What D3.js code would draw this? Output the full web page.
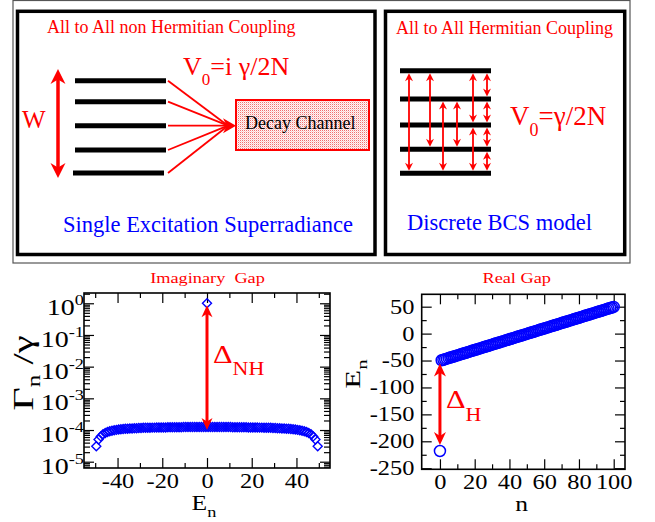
<!DOCTYPE html>
<html>
<head>
<meta charset="utf-8">
<script src="https://cdn.jsdelivr.net/npm/d3@7"></script>
<style>
  body { margin: 0; background: #fff; }
  svg { display: block; }
  text { font-family: "Liberation Serif", "Times New Roman", serif; }
</style>
</head>
<body>
<svg width="655" height="522"></svg>
<script>
// level energies E_n (same ladder for both panels)
const levelE = [
  -49.5, -48.5, -47.5, -46.5, -45.5, -44.5, -43.5, -42.5, -41.5, -40.5,
  -39.5, -38.5, -37.5, -36.5, -35.5, -34.5, -33.5, -32.5, -31.5, -30.5,
  -29.5, -28.5, -27.5, -26.5, -25.5, -24.5, -23.5, -22.5, -21.5, -20.5,
  -19.5, -18.5, -17.5, -16.5, -15.5, -14.5, -13.5, -12.5, -11.5, -10.5,
  -9.5, -8.5, -7.5, -6.5, -5.5, -4.5, -3.5, -2.5, -1.5, -0.5,
  0.5, 1.5, 2.5, 3.5, 4.5, 5.5, 6.5, 7.5, 8.5, 9.5,
  10.5, 11.5, 12.5, 13.5, 14.5, 15.5, 16.5, 17.5, 18.5, 19.5,
  20.5, 21.5, 22.5, 23.5, 24.5, 25.5, 26.5, 27.5, 28.5, 29.5,
  30.5, 31.5, 32.5, 33.5, 34.5, 35.5, 36.5, 37.5, 38.5, 39.5,
  40.5, 41.5, 42.5, 43.5, 44.5, 45.5, 46.5, 47.5, 48.5, 49.5
];
// subradiant widths Gamma_n / gamma
const widthNH = [
  0.31e-4, 0.50e-4, 0.63e-4, 0.73e-4, 0.80e-4, 0.86e-4, 0.91e-4, 0.95e-4, 0.98e-4, 1.01e-4,
  1.03e-4, 1.05e-4, 1.07e-4, 1.09e-4, 1.10e-4, 1.11e-4, 1.12e-4, 1.13e-4, 1.14e-4, 1.15e-4,
  1.16e-4, 1.17e-4, 1.17e-4, 1.18e-4, 1.18e-4, 1.19e-4, 1.19e-4, 1.20e-4, 1.20e-4, 1.21e-4,
  1.21e-4, 1.21e-4, 1.22e-4, 1.22e-4, 1.22e-4, 1.23e-4, 1.23e-4, 1.23e-4, 1.23e-4, 1.24e-4,
  1.24e-4, 1.24e-4, 1.24e-4, 1.24e-4, 1.25e-4, 1.25e-4, 1.25e-4, 1.25e-4, 1.25e-4, 1.25e-4,
  1.25e-4, 1.25e-4, 1.25e-4, 1.25e-4, 1.25e-4, 1.24e-4, 1.24e-4, 1.24e-4, 1.24e-4, 1.24e-4,
  1.24e-4, 1.23e-4, 1.23e-4, 1.23e-4, 1.23e-4, 1.22e-4, 1.22e-4, 1.22e-4, 1.21e-4, 1.21e-4,
  1.21e-4, 1.20e-4, 1.20e-4, 1.19e-4, 1.19e-4, 1.18e-4, 1.18e-4, 1.17e-4, 1.17e-4, 1.16e-4,
  1.15e-4, 1.14e-4, 1.13e-4, 1.12e-4, 1.11e-4, 1.10e-4, 1.09e-4, 1.07e-4, 1.05e-4, 1.03e-4,
  1.01e-4, 0.98e-4, 0.95e-4, 0.91e-4, 0.86e-4, 0.80e-4, 0.73e-4, 0.63e-4, 0.50e-4, 0.31e-4
];
const superradiant = { E: 0, width: 1 };
const bcsGround = { n: 0, E: -218 };
const gapNH = [1, 1e-4];
const gapH = [-50, -218];

const xTicksL = [-40, -20, 0, 20, 40];
const xMinorL = [-50, -30, -10, 10, 30, 50];
const yTicksL = [1, 1e-1, 1e-2, 1e-3, 1e-4, 1e-5];
const yExpL = ["0", "-1", "-2", "-3", "-4", "-5"];
const xTicksR = [0, 20, 40, 60, 80, 100];
const xMinorR = [10, 30, 50, 70, 90];
const yTicksR = [50, 0, -50, -100, -150, -200, -250];
const yMinorR = [25, -25, -75, -125, -175, -225];

const RED = "#ff0000", BLUE = "#0000ff";
const svg = d3.select("svg");

// arrow head pointing along +x, then rotated
function head(g, x, y, angle, len, wid, color) {
  g.append("path")
    .attr("d", `M0,0L${-len},${-wid / 2}L${-len * 0.7},0L${-len},${wid / 2}Z`)
    .attr("transform", `translate(${x},${y}) rotate(${angle})`)
    .attr("fill", color);
}
function dblArrow(g, x, y1, y2, len, wid, sw, color) {
  g.append("line").attr("x1", x).attr("x2", x)
    .attr("y1", y1 + len * 0.6).attr("y2", y2 - len * 0.6)
    .attr("stroke", color).attr("stroke-width", sw);
  head(g, x, y1, -90, len, wid, color);
  head(g, x, y2, 90, len, wid, color);
}

// ---------------- top schematic ----------------
const diag = svg.append("g");
diag.append("rect").attr("x", 13).attr("y", 0.5).attr("width", 617).attr("height", 262.5)
  .attr("fill", "none").attr("stroke", "#555").attr("stroke-width", 1.2);
[[17.5, 11.3, 357.5, 243.2], [385.5, 11.3, 239.2, 243.2]].forEach(b => {
  diag.append("rect").attr("x", b[0]).attr("y", b[1]).attr("width", b[2]).attr("height", b[3])
    .attr("fill", "none").attr("stroke", "#000").attr("stroke-width", 3.5);
});

const defs = svg.append("defs");
const pat = defs.append("pattern").attr("id", "stip").attr("width", 2).attr("height", 2)
  .attr("patternUnits", "userSpaceOnUse");
pat.append("rect").attr("width", 2).attr("height", 2).attr("fill", "#fff6f6");
pat.append("rect").attr("width", 1).attr("height", 1).attr("fill", "#f07070");
pat.append("rect").attr("x", 1).attr("y", 1).attr("width", 1).attr("height", 1).attr("fill", "#fad0d0");

// left box
diag.append("text").attr("x", 47).attr("y", 33).attr("font-size", 18).attr("fill", RED)
  .text("All to All non Hermitian Coupling");
const v1 = diag.append("text").attr("x", 183).attr("y", 75).attr("font-size", 26).attr("fill", RED);
v1.append("tspan").text("V");
v1.append("tspan").attr("font-size", 17).attr("dy", 10).text("0");
v1.append("tspan").attr("dy", -10).text("=i \u03b3/2N");
diag.append("text").attr("x", 22).attr("y", 128).attr("font-size", 25).attr("fill", RED).text("W");
dblArrow(diag, 58, 69, 178, 15, 15, 3.5, RED);

const barsL = [80.7, 101.7, 125.7, 150, 173];
barsL.forEach((y, i) => {
  diag.append("line").attr("x1", i === 4 ? 73 : 75).attr("x2", i === 4 ? 164 : 166)
    .attr("y1", y).attr("y2", y).attr("stroke", "#000").attr("stroke-width", 5);
  diag.append("line").attr("x1", 168).attr("y1", y).attr("x2", 228).attr("y2", 125.7)
    .attr("stroke", RED).attr("stroke-width", 1.8);
});
head(diag, 236, 125.7, 0, 13, 15, RED);
diag.append("rect").attr("x", 236).attr("y", 100).attr("width", 133).attr("height", 50)
  .attr("fill", "url(#stip)").attr("stroke", RED).attr("stroke-width", 2);
diag.append("text").attr("x", 245).attr("y", 129).attr("font-size", 18).attr("fill", "#000")
  .text("Decay Channel");
diag.append("text").attr("x", 63).attr("y", 231.5).attr("font-size", 22.5).attr("fill", BLUE)
  .text("Single Excitation Superradiance");

// right box
diag.append("text").attr("x", 396).attr("y", 34).attr("font-size", 18).attr("fill", RED)
  .text("All to All Hermitian Coupling");
const barsR = [70.7, 99, 125, 149.3, 173.3];
barsR.forEach(y => {
  diag.append("line").attr("x1", 400).attr("x2", 491).attr("y1", y).attr("y2", y)
    .attr("stroke", "#000").attr("stroke-width", 5);
});
[[409, 0, 4], [430, 0, 3], [443, 1, 4], [457, 1, 3], [473, 0, 2], [473, 2, 4],
 [487, 0, 1], [487, 1, 2], [487, 2, 3], [487, 3, 4]].forEach(a => {
  dblArrow(diag, a[0], barsR[a[1]] + 2.5, barsR[a[2]] - 2.5, 8, 8, 1.8, RED);
});
const v2 = diag.append("text").attr("x", 510).attr("y", 125).attr("font-size", 27).attr("fill", RED);
v2.append("tspan").text("V");
v2.append("tspan").attr("font-size", 18).attr("dy", 11).text("0");
v2.append("tspan").attr("dy", -11).text("=\u03b3/2N");
diag.append("text").attr("x", 407).attr("y", 230).attr("font-size", 22.5).attr("fill", BLUE)
  .text("Discrete BCS model");

// ---------------- bottom plots ----------------
const SX = 1.22; // horizontal stretch of the lower panels' lettering
const SL = 1.4;  // lengthwise stretch of the rotated axis titles

function stretchLabel(g, x, y, parts, opts) {
  const tf = opts.rotate ? `rotate(-90) scale(${SL},1)` : `scale(${SX},1)`;
  const t = g.append("text")
    .attr("transform", `translate(${x},${y}) ${tf}`)
    .attr("text-anchor", opts.anchor || "middle")
    .attr("font-size", opts.size).attr("fill", opts.color || "#000");
  parts.forEach(p => {
    t.append("tspan").attr("font-size", p.size || null).attr("dy", p.dy || 0).text(p.t);
  });
  return t;
}

function frameAxes(g, x, y, xMajor, xMinor) {
  const [x0, x1] = x.range(), [y0, y1] = y.range();
  const b = g.append("g").attr("transform", `translate(0,${y0})`)
    .call(d3.axisBottom(x).tickValues(xMajor).tickSize(-10).tickPadding(6).tickFormat(d => String(d)));
  g.append("g").attr("transform", `translate(0,${y0})`)
    .call(d3.axisBottom(x).tickValues(xMinor).tickSize(-5).tickFormat(""));
  g.append("g").attr("transform", `translate(0,${y1})`)
    .call(d3.axisTop(x).tickValues(xMajor).tickSize(-10).tickFormat(""));
  g.append("g").attr("transform", `translate(0,${y1})`)
    .call(d3.axisTop(x).tickValues(xMinor).tickSize(-5).tickFormat(""));
  b.selectAll("text").attr("transform", `scale(${SX},1)`);
  g.append("rect").attr("x", x0).attr("y", y1).attr("width", x1 - x0).attr("height", y0 - y1)
    .attr("fill", "none").attr("stroke", "#000").attr("stroke-width", 1.6);
}

function styleAxes(g) {
  g.selectAll(".domain").remove();
  g.selectAll(".tick line").attr("stroke", "#000").attr("stroke-width", 1.2);
  g.selectAll(".tick text").attr("font-size", 20).attr("fill", "#000");
  g.selectAll("g").attr("font-family", null).attr("font-size", null);
}

// ---- left: imaginary gap ----
const xL = d3.scaleLinear().domain([-55, 55]).range([84, 330]);
const yL = d3.scaleLog().domain([6.33e-6, 2.11]).range([468, 293]);
const gL = svg.append("g");
const minorL = yL.ticks().filter(v => !yTicksL.includes(v));

gL.append("g").attr("transform", "translate(84,0)")
  .call(d3.axisLeft(yL).tickValues(yTicksL).tickSize(-10).tickFormat(""));
gL.append("g").attr("transform", "translate(84,0)")
  .call(d3.axisLeft(yL).tickValues(minorL).tickSize(-6).tickFormat(""));
gL.append("g").attr("transform", "translate(330,0)")
  .call(d3.axisRight(yL).tickValues(yTicksL).tickSize(-10).tickFormat(""));
gL.append("g").attr("transform", "translate(330,0)")
  .call(d3.axisRight(yL).tickValues(minorL).tickSize(-6).tickFormat(""));
frameAxes(gL, xL, yL, xTicksL, xMinorL);
styleAxes(gL);

yTicksL.forEach((v, i) => {
  stretchLabel(gL, 84, yL(v) + 12, [{ t: "10" }, { t: yExpL[i], size: 15, dy: -10 }],
    { size: 23, anchor: "end" });
});

gL.selectAll("path.sub").data(levelE).join("path").attr("class", "sub")
  .attr("transform", (d, i) => `translate(${xL(d)},${yL(widthNH[i])})`)
  .attr("d", "M0,-4.5L4.5,0L0,4.5L-4.5,0Z")
  .attr("fill", "none").attr("stroke", BLUE).attr("stroke-width", 1.4);
gL.append("path")
  .attr("transform", `translate(${xL(superradiant.E)},${yL(superradiant.width)})`)
  .attr("d", "M0,-4.5L4.5,0L0,4.5L-4.5,0Z")
  .attr("fill", "none").attr("stroke", BLUE).attr("stroke-width", 1.4);

dblArrow(gL, xL(0), yL(gapNH[0]) + 2, yL(gapNH[1]), 12, 11, 3, RED);
stretchLabel(gL, 213, 363, [{ t: "\u0394" }, { t: "NH", size: 18, dy: 12 }],
  { size: 25, anchor: "start", color: RED });

stretchLabel(gL, 207.5, 283, [{ t: "Imaginary\u00a0\u00a0Gap" }], { size: 15, color: RED });
stretchLabel(gL, 204, 510, [{ t: "E" }, { t: "n", size: 15, dy: 7 }], { size: 21 });
stretchLabel(gL, 33, 373, [{ t: "\u0393" }, { t: "n", size: 18, dy: 7 }, { t: "\u00a0/\u03b3", dy: -7 }],
  { size: 29, rotate: true });

// ---- right: real gap ----
const xR = d3.scaleLinear().domain([-10.5, 106.5]).range([421.7, 625]);
const yR = d3.scaleLinear().domain([-252, 73]).range([469.3, 294.3]);
const gR = svg.append("g");

const axR = gR.append("g").attr("transform", "translate(421.7,0)")
  .call(d3.axisLeft(yR).tickValues(yTicksR).tickSize(-10).tickPadding(6).tickFormat(d => String(d)));
gR.append("g").attr("transform", "translate(421.7,0)")
  .call(d3.axisLeft(yR).tickValues(yMinorR).tickSize(-5).tickFormat(""));
gR.append("g").attr("transform", "translate(625,0)")
  .call(d3.axisRight(yR).tickValues(yTicksR).tickSize(-10).tickFormat(""));
gR.append("g").attr("transform", "translate(625,0)")
  .call(d3.axisRight(yR).tickValues(yMinorR).tickSize(-5).tickFormat(""));
axR.selectAll("text").attr("transform", `scale(${SX},1)`);
frameAxes(gR, xR, yR, xTicksR, xMinorR);
styleAxes(gR);

gR.selectAll("circle.lev").data(levelE).join("circle").attr("class", "lev")
  .attr("cx", (d, i) => xR(i + 1)).attr("cy", d => yR(d)).attr("r", 5.5)
  .attr("fill", "none").attr("stroke", BLUE).attr("stroke-width", 1.5);
gR.append("circle").attr("cx", xR(bcsGround.n)).attr("cy", yR(bcsGround.E)).attr("r", 5.5)
  .attr("fill", "none").attr("stroke", BLUE).attr("stroke-width", 1.5);

dblArrow(gR, xR(0), yR(gapH[0]) + 3, yR(gapH[1]) - 6, 13, 12, 3, RED);
stretchLabel(gR, 446, 408, [{ t: "\u0394" }, { t: "H", size: 18, dy: 13 }],
  { size: 25, anchor: "start", color: RED });

stretchLabel(gR, 516.7, 283, [{ t: "Real Gap" }], { size: 15, color: RED });
stretchLabel(gR, 521.7, 511, [{ t: "n" }], { size: 21 });
stretchLabel(gR, 360, 374, [{ t: "E" }, { t: "n", size: 15, dy: 7 }], { size: 22, rotate: true });
</script>
</body>
</html>
